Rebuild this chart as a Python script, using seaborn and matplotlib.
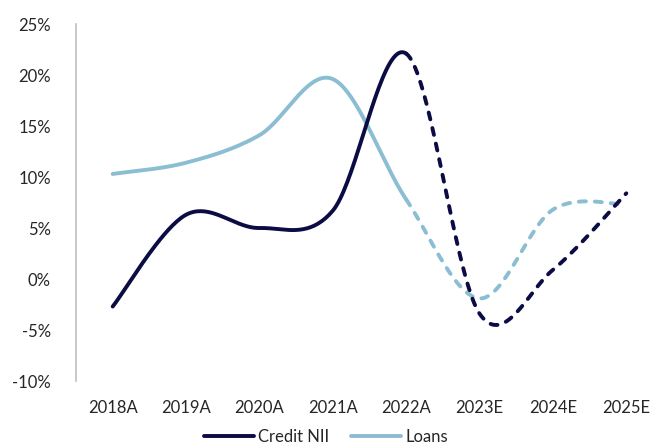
import numpy as np
import seaborn as sns
import matplotlib.pyplot as plt
from matplotlib.lines import Line2D

# data
years = ['2018A', '2019A', '2020A', '2021A', '2022A', '2023E', '2024E', '2025E']
credit_nii = [-2.7, 6.3, 5.0, 6.7, 22.1, -3.4, 0.9, 8.4]
loans = [10.3, 11.4, 14.1, 19.6, 7.8, -1.9, 6.8, 7.3]
last_actual = 4  # index of 2022A, estimates are dashed after it

navy = '#0c0c45'
light = '#8bbdd3'
txt = '#262626'


def smooth(vals, steps=40):
    # excel-like smoothed line (catmull-rom through the points)
    p = np.array(vals, dtype=float)
    x = np.arange(len(p), dtype=float)
    px = np.concatenate([[x[0]], x, [x[-1]]])
    py = np.concatenate([[p[0]], p, [p[-1]]])
    xs, ys, seg = [], [], []
    t = np.linspace(0, 1, steps, endpoint=False)
    h00 = 2 * t**3 - 3 * t**2 + 1
    h10 = t**3 - 2 * t**2 + t
    h01 = -2 * t**3 + 3 * t**2
    h11 = t**3 - t**2
    for i in range(1, len(px) - 2):
        mx0 = (px[i + 1] - px[i - 1]) / 2
        mx1 = (px[i + 2] - px[i]) / 2
        my0 = (py[i + 1] - py[i - 1]) / 2
        my1 = (py[i + 2] - py[i]) / 2
        xs.append(h00 * px[i] + h10 * mx0 + h01 * px[i + 1] + h11 * mx1)
        ys.append(h00 * py[i] + h10 * my0 + h01 * py[i + 1] + h11 * my1)
        seg.append(np.full(steps, i - 1))
    xs.append([x[-1]]); ys.append([p[-1]]); seg.append([len(p) - 1])
    return np.concatenate(xs), np.concatenate(ys), np.concatenate(seg)


sns.set_style('white')
plt.rcParams['font.family'] = ['Lato', 'DejaVu Sans']

fig = plt.figure(figsize=(6.56, 4.48), dpi=100)
ax = fig.add_axes([76 / 656, 1 - 381 / 448, 587 / 656, 357 / 448])

lw = 2.8
for vals, col in [(loans, light), (credit_nii, navy)]:
    xs, ys, seg = smooth(vals)
    solid = seg < last_actual
    k = np.argmax(~solid)
    sns.lineplot(x=xs[:k + 1], y=ys[:k + 1], ax=ax, color=col, linewidth=lw,
                 sort=False, estimator=None, solid_capstyle='round')
    sns.lineplot(x=xs[k:], y=ys[k:], ax=ax, color=col, linewidth=lw,
                 sort=False, estimator=None, linestyle=(0, (1.8, 2.3)),
                 dash_capstyle='round')

ax.set_xlim(-0.5, 7.5)
ax.set_ylim(-10, 25)
ax.set_xticks(range(len(years)))
ax.set_xticklabels(years)
ax.set_yticks(range(-10, 26, 5))
ax.set_yticklabels([f'{v}%' for v in range(-10, 26, 5)])
ax.tick_params(axis='both', length=0, labelsize=12, colors=txt)
ax.tick_params(axis='y', pad=18)
ax.tick_params(axis='x', pad=14)
for s in ['top', 'right', 'bottom']:
    ax.spines[s].set_visible(False)
ax.spines['left'].set_color('#bfbfbf')
ax.spines['left'].set_linewidth(1.2)
ax.set_xlabel('')
ax.set_ylabel('')

handles = [Line2D([], [], color=navy, lw=lw), Line2D([], [], color=light, lw=lw)]
fig.legend(handles, ['Credit NII', 'Loans'], loc='center', ncol=2,
           bbox_to_anchor=(0.497, 11 / 448), frameon=False, fontsize=12,
           handlelength=3.0, handletextpad=0.25, columnspacing=1.3,
           labelcolor=txt)

fig.savefig('out.png', dpi=100)
